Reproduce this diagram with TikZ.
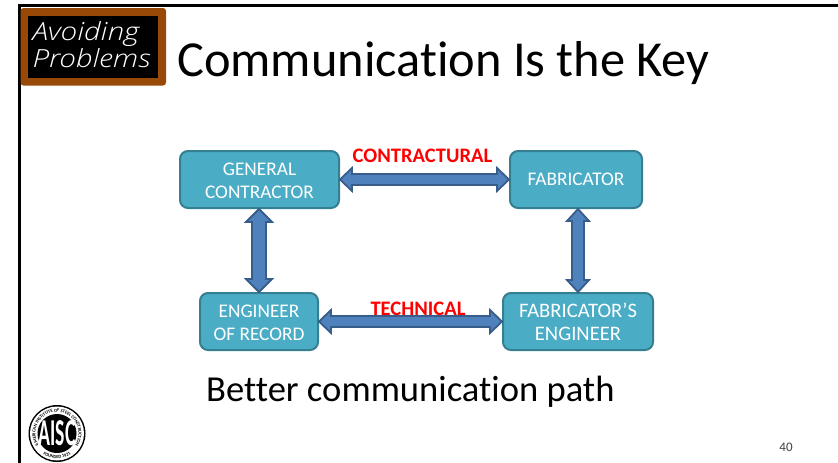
\documentclass[tikz,border=0pt]{standalone}
\usepackage{fontspec}
\setmainfont{Carlito}[RawFeature={-liga;-clig}]
\newfontfamily\handfont{Open Sans Light}[ItalicFont={Open Sans Light Italic}]
\usetikzlibrary{calc,decorations.text}
\definecolor{boxfill}{HTML}{4BACC6}
\definecolor{boxedge}{HTML}{357F92}
\definecolor{arrowfill}{HTML}{4F81BD}
\definecolor{arrowedge}{HTML}{385D8A}
\definecolor{brownframe}{HTML}{984807}
\newcommand{\twolines}[2]{\raisebox{-8pt}[0pt][0pt]{\begin{tabular}{@{}c@{}}#1\\#2\end{tabular}}}
\tikzset{
  x=1pt,y=-1pt,
  flow/.style={draw=boxedge,line width=2pt,fill=boxfill,rounded corners=8pt,text=white,font=\fontsize{19.3}{23.5}\selectfont,align=center,inner sep=0pt,minimum height=57pt},
  tag/.style={text=red,font=\bfseries\fontsize{20.6}{22}\selectfont,inner sep=0pt},
  blockarrow/.style={draw=arrowedge,line width=1.8pt,fill=arrowfill,line join=miter}
}
% #1,#2 ends, #3 head length, #4 head half width, #5 shaft half width
\newcommand{\twoway}[5]{%
  \draw[blockarrow] (#1)
   -- ($(#1)!#3!(#2)!#4!90:(#2)$)
   -- ($(#1)!#3!(#2)!#5!90:(#2)$)
   -- ($(#2)!#3!(#1)!#5!-90:(#1)$)
   -- ($(#2)!#3!(#1)!#4!-90:(#1)$)
   -- (#2)
   -- ($(#2)!#3!(#1)!#4!90:(#1)$)
   -- ($(#2)!#3!(#1)!#5!90:(#1)$)
   -- ($(#1)!#3!(#2)!#5!-90:(#2)$)
   -- ($(#1)!#3!(#2)!#4!-90:(#2)$)
   -- cycle;}
\begin{document}
\begin{tikzpicture}
\useasboundingbox (0,0) rectangle (838,463);
\fill[white] (0,0) rectangle (838,463);
% slide frame
\fill[black] (18,4) rectangle (838,7);
\fill[black] (18,4) rectangle (21,463);
% blackboard
\fill[brownframe,rounded corners=3pt] (20.5,8) rectangle (166,85.5);
\fill[black] (28,15.5) rectangle (158,78);
\node[text=white,font=\handfont\itshape\fontsize{25}{27}\selectfont,xscale=1.19,anchor=center,align=left,inner sep=0pt] (board) at (91.5,45) {Avoiding\\Problems};
% titles
\node[anchor=base west,inner sep=0pt,font=\fontsize{50.4}{56}\selectfont] (title) at (177,76) {Communication Is the Key};
\node[anchor=base west,inner sep=0pt,font=\fontsize{36.6}{40}\selectfont] (sub) at (206,401) {Better communication path};
\node[anchor=center,inner sep=0pt,font=\fontsize{13}{15}\selectfont,text=black!75] (num) at (786,447) {40};
% boxes
\node[flow,minimum width=159pt] (gc) at (259.5,179.5) {\twolines{GENERAL}{CONTRACTOR}};
\node[flow,minimum width=132pt] (fab) at (576,179.5) {FABRICATOR};
\node[flow,minimum width=118pt] (eor) at (259,321.5) {\twolines{ENGINEER}{OF RECORD}};
\node[flow,minimum width=150pt,font=\fontsize{20.6}{23.5}\selectfont] (fe) at (578,321.5) {\twolines{FABRICATOR’S}{ENGINEER}};
% connectors
\coordinate (gcfoot) at (eor.north |- gc.south);
\coordinate (fabfoot) at (fe.north |- fab.south);
\twoway{gc.east}{fab.west}{12pt}{11.5pt}{5.5pt}
\twoway{eor.east}{fe.west}{12pt}{11.5pt}{5.5pt}
\twoway{gcfoot}{eor.north}{13pt}{13pt}{7pt}
\twoway{fabfoot}{fe.north}{12pt}{11pt}{6pt}
% labels
\node[tag] (contr) at (422.5,155.5) {CONTRACTURAL};
\node[tag] (tech) at (418,309) {TECHNICAL};
% logo
\coordinate (logo) at (57,433.5);
\fill[black] (logo) circle (28.5);
\fill[white] (logo) circle (27);
\fill[black] (logo) circle (19.5);
\path[y=1pt,postaction={decorate,decoration={text along path,text align=center,
  text={|\fontsize{4.6}{5}\bfseries\selectfont|AMERICAN INSTITUTE OF STEEL CONSTRUCTION}}}]
  (logo) ++(225:21.5) arc[start angle=225,end angle=-45,radius=21.5];
\path[y=1pt,postaction={decorate,decoration={text along path,text align=center,
  text={|\fontsize{4.6}{5}\bfseries\selectfont|FOUNDED 1921}}}]
  (logo) ++(235:25) arc[start angle=235,end angle=305,radius=25];
\node[font=\bfseries\fontsize{38}{38}\selectfont,text=white,inner sep=0pt,xscale=.52] (aisc) at (57,433.5) {AISC};
\end{tikzpicture}
\end{document}
